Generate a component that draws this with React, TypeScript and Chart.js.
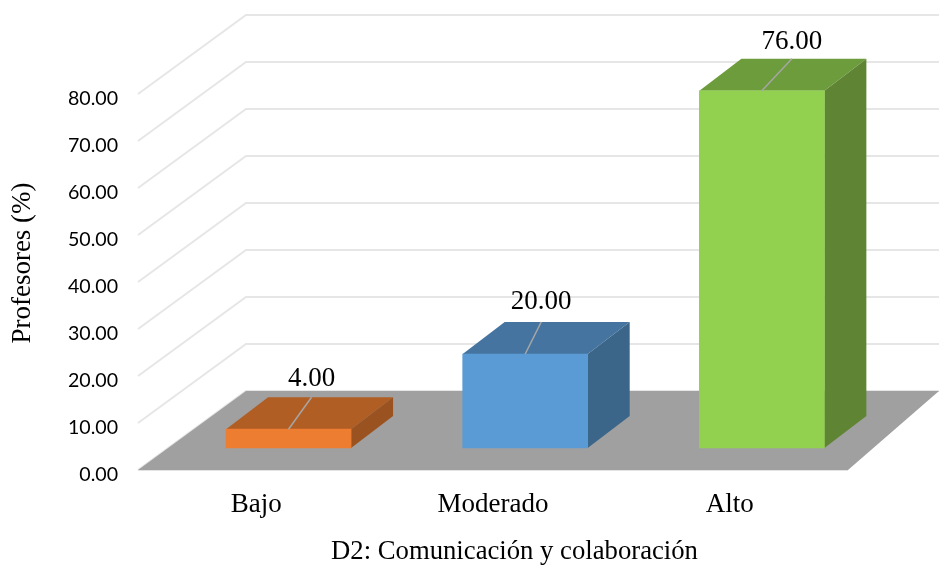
import { useEffect, useRef } from "react";
import { Chart, registerables } from "chart.js";

Chart.register(...registerables);

const categories = ["Bajo", "Moderado", "Alto"];
const values = [4, 20, 76];
const yMin = 0;
const yMax = 80;
const yStep = 10;
const yTitle = "Profesores (%)";
const xTitle = "D2: Comunicación y colaboración";

const frontColors = ["#ED7D31", "#5B9BD5", "#92D050"];
const topColors = ["#B15E24", "#44749F", "#6D9C3C"];
const sideColors = ["#9A5320", "#3B6689", "#5F8534"];

const SERIF = "'Liberation Serif', serif";
const SANS = "Lato, sans-serif";

// Oblique projection of the 3D scene
const WALL_DX = 108;
const WALL_DY = -79;
const BAR_SHIFT_X = 32.2;
const BAR_SHIFT_Y = -22;
const BAR_DEPTH_X = 42;
const BAR_DEPTH_Y = -32;
const LEADER_DX = [23, 16, 30];
const LABEL_GAP = [18, 20, 17];

function poly(ctx: CanvasRenderingContext2D, pts: number[][], fill: string) {
  ctx.beginPath();
  pts.forEach(([x, y], i) => (i ? ctx.lineTo(x, y) : ctx.moveTo(x, y)));
  ctx.closePath();
  ctx.fillStyle = fill;
  ctx.fill();
}

function shiftMethod(scale: any, name: string, dx: number, dy: number) {
  const flag = "__shifted_" + name;
  if (scale[flag]) return;
  scale[flag] = true;
  const orig = scale[name];
  scale[name] = function (...args: any[]) {
    const ctx = this.ctx;
    ctx.save();
    ctx.translate(dx, dy);
    orig.apply(this, args);
    ctx.restore();
  };
}

const scene3d = {
  id: "scene3d",
  afterLayout(chart: any) {
    shiftMethod(chart.scales.x, "drawTitle", 21.5, 3.5);
    shiftMethod(chart.scales.y, "drawTitle", 6.5, -19);
    shiftMethod(chart.scales.y, "drawLabels", 0, 4.5);
  },
  beforeDatasetsDraw(chart: any) {
    const { ctx, chartArea, scales } = chart;
    const y = scales.y;
    const w = chart.width;
    ctx.save();
    ctx.strokeStyle = "#E6E6E6";
    ctx.lineWidth = 2;
    y.ticks.forEach((t: any) => {
      const py = y.getPixelForValue(t.value);
      ctx.beginPath();
      ctx.moveTo(chartArea.left, py);
      ctx.lineTo(chartArea.left + WALL_DX, py + WALL_DY);
      ctx.lineTo(w, py + WALL_DY);
      ctx.stroke();
    });
    const base = y.getPixelForValue(yMin);
    poly(
      ctx,
      [
        [chartArea.left, base],
        [chartArea.left + WALL_DX, base + WALL_DY],
        [w, base + WALL_DY],
        [chartArea.right, base],
      ],
      "#A0A0A0"
    );
    ctx.strokeStyle = "#E3E3E3";
    ctx.lineWidth = 1;
    ctx.beginPath();
    ctx.moveTo(chartArea.left, base + 0.5);
    ctx.lineTo(chartArea.right, base + 0.5);
    ctx.stroke();
    const meta = chart.getDatasetMeta(0);
    meta.data.forEach((bar: any, i: number) => {
      const half = bar.width / 2;
      const l = bar.x - half + BAR_SHIFT_X;
      const r = bar.x + half + BAR_SHIFT_X;
      const t = bar.y + BAR_SHIFT_Y;
      const b = base + BAR_SHIFT_Y;
      poly(ctx, [[l, t], [l + BAR_DEPTH_X, t + BAR_DEPTH_Y], [r + BAR_DEPTH_X, t + BAR_DEPTH_Y], [r, t]], topColors[i]);
      poly(ctx, [[r, t], [r + BAR_DEPTH_X, t + BAR_DEPTH_Y], [r + BAR_DEPTH_X, b + BAR_DEPTH_Y], [r, b]], sideColors[i]);
    });
    ctx.restore();
  },
  beforeDatasetDraw(chart: any) {
    chart.ctx.save();
    chart.ctx.translate(BAR_SHIFT_X, BAR_SHIFT_Y);
  },
  afterDatasetDraw(chart: any) {
    chart.ctx.restore();
  },
  afterDatasetsDraw(chart: any) {
    const { ctx } = chart;
    const meta = chart.getDatasetMeta(0);
    ctx.save();
    meta.data.forEach((bar: any, i: number) => {
      const x0 = bar.x + BAR_SHIFT_X;
      const y0 = bar.y + BAR_SHIFT_Y;
      const x1 = x0 + LEADER_DX[i];
      const y1 = y0 + BAR_DEPTH_Y;
      ctx.strokeStyle = "#A6A6A6";
      ctx.lineWidth = 1.5;
      ctx.beginPath();
      ctx.moveTo(x0, y0);
      ctx.lineTo(x1, y1);
      ctx.stroke();
      ctx.fillStyle = "#000";
      ctx.font = `27px ${SERIF}`;
      ctx.textAlign = "center";
      ctx.textBaseline = "middle";
      ctx.fillText(values[i].toFixed(2), x1, y1 - LABEL_GAP[i]);
    });
    ctx.restore();
  },
};

export default function App() {
  const ref = useRef<HTMLCanvasElement>(null);
  useEffect(() => {
    if (!ref.current) return;
    const chart = new Chart(ref.current, {
      type: "bar",
      plugins: [scene3d],
      data: {
        labels: categories,
        datasets: [
          {
            data: values,
            backgroundColor: frontColors,
            barThickness: 125,
            clip: false,
          } as any,
        ],
      },
      options: {
        responsive: false,
        animation: false,
        layout: { padding: { top: 94, right: 91, left: 0, bottom: 0 } },
        plugins: { legend: { display: false }, tooltip: { enabled: false } },
        scales: {
          x: {
            grid: { display: false },
            border: { display: false },
            ticks: { color: "#000", font: { family: SERIF, size: 27 }, padding: 11 },
            title: {
              display: true,
              text: xTitle,
              color: "#000",
              font: { family: SERIF, size: 26.7 },
              padding: { top: 0, bottom: 0 },
            },
            afterFit(s: any) {
              s.height = 95;
            },
          },
          y: {
            min: yMin,
            max: yMax,
            grid: { display: false },
            border: { display: false },
            ticks: {
              stepSize: yStep,
              color: "#000",
              font: { family: SANS, size: 19.6 },
              padding: 12,
              callback: (v: any) => Number(v).toFixed(2),
            },
            title: {
              display: true,
              text: yTitle,
              color: "#000",
              font: { family: SERIF, size: 27 },
              padding: { top: 0, bottom: 0 },
            },
            afterFit(s: any) {
              s.width = 138;
            },
          },
        },
      },
    });
    return () => chart.destroy();
  }, []);
  return (
    <canvas
      ref={ref}
      width={939}
      height={565}
      style={{ position: "absolute", left: 0, top: 0, display: "block" }}
    />
  );
}
